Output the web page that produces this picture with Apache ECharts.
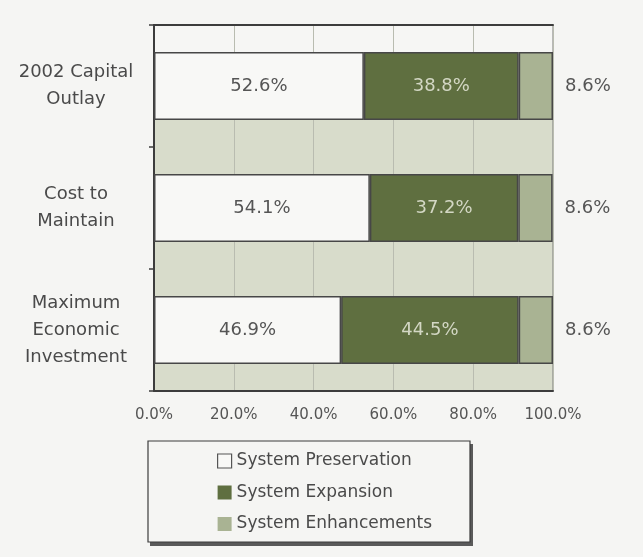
<!DOCTYPE html>
<html>
<head>
<meta charset="utf-8">
<script src="https://cdn.jsdelivr.net/npm/echarts@6/dist/echarts.min.js"></script>
<style>
html,body{margin:0;padding:0;background:#f5f5f3;}
#chart{width:643px;height:557px;}
</style>
</head>
<body>
<div id="chart"></div>
<script>
const categories = ['2002 Capital\nOutlay', 'Cost to\nMaintain', 'Maximum\nEconomic\nInvestment'];
const seriesNames = ['System Preservation', 'System Expansion', 'System Enhancements'];
const preservation = [52.6, 54.1, 46.9];
const expansion = [38.8, 37.2, 44.5];
const enhancements = [8.6, 8.6, 8.6];
const xTicks = [0, 20, 40, 60, 80, 100];

const FONT = '"DejaVu Sans", sans-serif';
const BAR_W = 68;
const GRID = {left: 154, right: 90, top: 25, bottom: 166};
const COLORS = ['#f8f8f6', '#5f6f40', '#a9b393'];
const border = {borderColor: '#474747', borderWidth: 1.5};
const pct = v => v.toFixed(1) + '%';

const chart = echarts.init(document.getElementById('chart'), null, {renderer: 'canvas'});

const option = {
  backgroundColor: '#f5f5f3',
  animation: false,
  textStyle: {fontFamily: FONT},
  grid: Object.assign({show: true, borderColor: '#7a7a7a', borderWidth: 1, backgroundColor: 'transparent'}, GRID),
  legend: {
    orient: 'vertical',
    left: 212,
    top: 447,
    itemWidth: 14,
    itemHeight: 14,
    itemGap: 13.5,
    icon: 'rect',
    data: [
      {name: seriesNames[0], itemStyle: {color: COLORS[0], borderColor: '#555', borderWidth: 1.2}},
      {name: seriesNames[1], itemStyle: {color: COLORS[1], borderWidth: 0}},
      {name: seriesNames[2], itemStyle: {color: COLORS[2], borderWidth: 0}}
    ],
    textStyle: {fontFamily: FONT, fontSize: 17, lineHeight: 18, color: '#4a4a4a'}
  },
  xAxis: [{
    type: 'value',
    min: xTicks[0],
    max: xTicks[xTicks.length - 1],
    interval: xTicks[1] - xTicks[0],
    position: 'bottom',
    axisLine: {show: true, lineStyle: {color: '#3c3c3c', width: 2}},
    axisTick: {show: false},
    axisLabel: {formatter: pct, fontFamily: FONT, fontSize: 15, color: '#555', margin: 17},
    splitLine: {show: true, lineStyle: {color: '#b9bcb0', width: 1}}
  }, {
    type: 'value',
    min: xTicks[0],
    max: xTicks[xTicks.length - 1],
    position: 'top',
    axisLine: {show: true, lineStyle: {color: '#3c3c3c', width: 2}},
    axisTick: {show: false},
    axisLabel: {show: false},
    splitLine: {show: false}
  }],
  yAxis: {
    type: 'category',
    inverse: true,
    data: categories,
    axisLine: {show: true, lineStyle: {color: '#3c3c3c', width: 2}},
    axisTick: {show: true, length: 5, lineStyle: {color: '#3c3c3c', width: 1.5}},
    axisLabel: {align: 'center', margin: 78, fontFamily: FONT, fontSize: 18, lineHeight: 27, color: '#4a4a4a'}
  },
  series: [{
    name: seriesNames[0],
    type: 'bar',
    stack: 'total',
    barWidth: BAR_W,
    data: preservation,
    itemStyle: Object.assign({color: COLORS[0]}, border),
    label: {show: true, position: 'inside', formatter: p => pct(p.value), fontFamily: FONT, fontSize: 18, color: '#555'}
  }, {
    name: seriesNames[1],
    type: 'bar',
    stack: 'total',
    barWidth: BAR_W,
    data: expansion,
    itemStyle: Object.assign({color: COLORS[1]}, border),
    label: {show: true, position: 'inside', formatter: p => pct(p.value), fontFamily: FONT, fontSize: 18, color: '#d3d7c4'}
  }, {
    name: seriesNames[2],
    type: 'bar',
    stack: 'total',
    barWidth: BAR_W,
    data: enhancements,
    itemStyle: Object.assign({color: COLORS[2]}, border),
    label: {show: true, position: 'right', distance: 12, formatter: p => pct(p.value), fontFamily: FONT, fontSize: 18, color: '#555'}
  }]
};

chart.setOption(option);

// Plot background: light strip above the first bar, sage bands elsewhere; legend frame.
const plotW = 643 - GRID.left - GRID.right;
const plotH = 557 - GRID.top - GRID.bottom;
const firstCenter = chart.convertToPixel({yAxisIndex: 0}, categories[0]);
const stripBottom = firstCenter - BAR_W / 2;

chart.setOption({
  graphic: [{
    type: 'rect', z: -1, silent: true,
    shape: {x: GRID.left, y: GRID.top, width: plotW, height: plotH},
    style: {fill: '#d8dccb'}
  }, {
    type: 'rect', z: -1, silent: true,
    shape: {x: GRID.left, y: GRID.top, width: plotW, height: stripBottom - GRID.top},
    style: {fill: '#f6f6f4'}
  }, {
    type: 'rect', z: -2, silent: true,
    shape: {x: 150, y: 444, width: 323, height: 102},
    style: {fill: '#5a5a5a'}
  }, {
    type: 'rect', z: -1, silent: true,
    shape: {x: 148, y: 441, width: 322, height: 101},
    style: {fill: '#f5f5f3', stroke: '#3c3c3c', lineWidth: 1.2}
  }]
});
</script>
</body>
</html>
